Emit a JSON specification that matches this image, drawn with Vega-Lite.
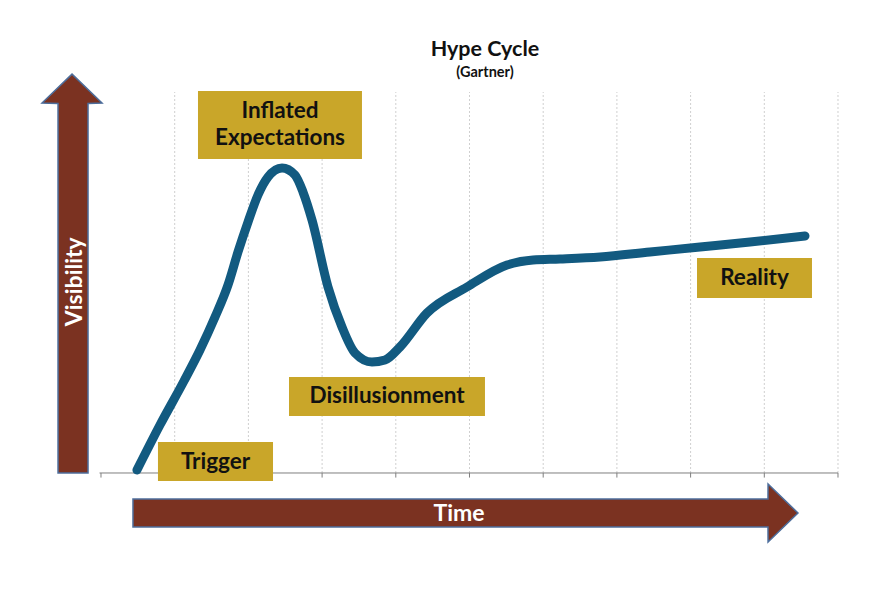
{
  "$schema": "https://vega.github.io/schema/vega-lite/v6.json",
  "width": 880,
  "height": 594,
  "autosize": {"type": "fit", "contains": "padding"},
  "padding": 0,
  "background": "white",
  "config": {"view": {"stroke": null}, "text": {"font": "Lato"}},
  "datasets": {
    "curve": [
      {"t": 0.488, "v": 0.079}, {"t": 0.800, "v": 1.260}, {"t": 1.126, "v": 2.415},
      {"t": 1.343, "v": 3.228}, {"t": 1.547, "v": 4.094}, {"t": 1.723, "v": 4.934},
      {"t": 1.859, "v": 5.801}, {"t": 1.995, "v": 6.588}, {"t": 2.130, "v": 7.297},
      {"t": 2.266, "v": 7.769}, {"t": 2.456, "v": 8.005}, {"t": 2.632, "v": 7.822},
      {"t": 2.741, "v": 7.375}, {"t": 2.863, "v": 6.64}, {"t": 3.08, "v": 4.882},
      {"t": 3.27, "v": 3.832}, {"t": 3.446, "v": 3.15}, {"t": 3.677, "v": 2.913},
      {"t": 3.853, "v": 2.966}, {"t": 4.057, "v": 3.307}, {"t": 4.423, "v": 4.199},
      {"t": 4.966, "v": 4.882}, {"t": 5.509, "v": 5.459}, {"t": 5.862, "v": 5.591},
      {"t": 6.228, "v": 5.617}, {"t": 6.771, "v": 5.669}, {"t": 7.449, "v": 5.801},
      {"t": 8.128, "v": 5.932}, {"t": 8.806, "v": 6.063}, {"t": 9.552, "v": 6.22}
    ],
    "grid": [
      {"t": 1, "v": 0, "v2": 10}, {"t": 2, "v": 0, "v2": 10}, {"t": 3, "v": 0, "v2": 10},
      {"t": 4, "v": 0, "v2": 10}, {"t": 5, "v": 0, "v2": 10}, {"t": 6, "v": 0, "v2": 10},
      {"t": 7, "v": 0, "v2": 10}, {"t": 8, "v": 0, "v2": 10}, {"t": 9, "v": 0, "v2": 10},
      {"t": 10, "v": 0, "v2": 10}
    ],
    "ticks": [
      {"t": 0, "v": 0, "v2": -0.12}, {"t": 1, "v": 0, "v2": -0.12}, {"t": 2, "v": 0, "v2": -0.12},
      {"t": 3, "v": 0, "v2": -0.12}, {"t": 4, "v": 0, "v2": -0.12}, {"t": 5, "v": 0, "v2": -0.12},
      {"t": 6, "v": 0, "v2": -0.12}, {"t": 7, "v": 0, "v2": -0.12}, {"t": 8, "v": 0, "v2": -0.12},
      {"t": 9, "v": 0, "v2": -0.12}, {"t": 10, "v": 0, "v2": -0.12}
    ],
    "varrow": [
      {"v": 0, "t": -0.583, "t2": -0.176},
      {"v": 9.7, "t": -0.583, "t2": -0.176},
      {"v": 9.71, "t": -0.8, "t2": 0.014},
      {"v": 10.47, "t": -0.393, "t2": -0.393}
    ],
    "harrow": [
      {"t": 0.434, "v": -0.682, "v2": -1.417},
      {"t": 9.05, "v": -0.682, "v2": -1.417},
      {"t": 9.051, "v": -0.289, "v2": -1.811},
      {"t": 9.457, "v": -1.05, "v2": -1.05}
    ],
    "boxes": [
      {"phase": "Inflated Expectations", "t": 1.316, "t2": 3.541, "v": 10.026, "v2": 8.241},
      {"phase": "Disillusionment", "t": 2.551, "t2": 5.21, "v": 2.52, "v2": 1.496},
      {"phase": "Trigger", "t": 0.773, "t2": 2.334, "v": 0.814, "v2": -0.21},
      {"phase": "Reality", "t": 8.087, "t2": 9.647, "v": 5.643, "v2": 4.593}
    ],
    "labels": [
      {"text": "Inflated", "t": 2.429, "v": 9.318},
      {"text": "Expectations", "t": 2.429, "v": 8.609},
      {"text": "Disillusionment", "t": 3.881, "v": 1.837},
      {"text": "Trigger", "t": 1.554, "v": 0.105},
      {"text": "Reality", "t": 8.867, "v": 4.934}
    ]
  },
  "encoding": {
    "x": {"field": "t", "type": "quantitative", "axis": null,
          "scale": {"domain": [-1.3704, 10.5699], "nice": false, "zero": false}},
    "y": {"field": "v", "type": "quantitative", "axis": null,
          "scale": {"domain": [-3.1759, 12.4147], "nice": false, "zero": false}}
  },
  "layer": [
    {
      "data": {"name": "grid"},
      "mark": {"type": "rule", "color": "#cfcfcf", "strokeWidth": 1, "strokeDash": [2, 2]},
      "encoding": {"y2": {"field": "v2"}}
    },
    {
      "data": {"name": "ticks"},
      "mark": {"type": "rule", "color": "#7f7f7f", "strokeWidth": 1},
      "encoding": {"y2": {"field": "v2"}}
    },
    {
      "data": {"values": [{"t": -0.02, "t2": 10, "v": 0}]},
      "mark": {"type": "rule", "color": "#7f7f7f", "strokeWidth": 1},
      "encoding": {"x2": {"field": "t2"}}
    },
    {
      "data": {"name": "varrow"},
      "mark": {"type": "area", "orient": "horizontal", "fill": "#7b3221", "fillOpacity": 1, "stroke": "#4d6e9c", "strokeWidth": 1.5},
      "encoding": {"x2": {"field": "t2"}}
    },
    {
      "data": {"name": "harrow"},
      "mark": {"type": "area", "orient": "vertical", "fill": "#7b3221", "fillOpacity": 1, "stroke": "#4d6e9c", "strokeWidth": 1.5},
      "encoding": {"y2": {"field": "v2"}}
    },
    {
      "data": {"name": "curve"},
      "mark": {"type": "line", "color": "#125a80", "strokeWidth": 9, "strokeCap": "round", "strokeJoin": "round", "interpolate": "monotone"},
      "encoding": {}
    },
    {
      "data": {"name": "boxes"},
      "mark": {"type": "rect", "color": "#c9a629"},
      "encoding": {"x2": {"field": "t2"}, "y2": {"field": "v2"}}
    },
    {
      "data": {"name": "labels"},
      "mark": {"type": "text", "fontSize": 22.5, "fontWeight": "bold", "color": "#111111", "align": "center", "baseline": "alphabetic"},
      "encoding": {"text": {"field": "text"}}
    },
    {
      "data": {"values": [{"text": "Time", "t": 4.858, "v": -1.26}]},
      "mark": {"type": "text", "fontSize": 23, "fontWeight": "bold", "color": "white", "align": "center", "baseline": "alphabetic"},
      "encoding": {"text": {"field": "text"}}
    },
    {
      "data": {"values": [{"text": "Visibility", "t": -0.26, "v": 5.02}]},
      "mark": {"type": "text", "fontSize": 23, "fontWeight": "bold", "color": "white", "align": "center", "baseline": "alphabetic", "angle": 270},
      "encoding": {"text": {"field": "text"}}
    },
    {
      "data": {"values": [{"text": "Hype Cycle", "t": 5.21, "v": 10.94}]},
      "mark": {"type": "text", "fontSize": 21.5, "fontWeight": "bold", "color": "#111111", "align": "center", "baseline": "alphabetic"},
      "encoding": {"text": {"field": "text"}}
    },
    {
      "data": {"values": [{"text": "(Gartner)", "t": 5.21, "v": 10.4}]},
      "mark": {"type": "text", "fontSize": 14.5, "fontWeight": "bold", "color": "#111111", "align": "center", "baseline": "alphabetic"},
      "encoding": {"text": {"field": "text"}}
    }
  ]
}
